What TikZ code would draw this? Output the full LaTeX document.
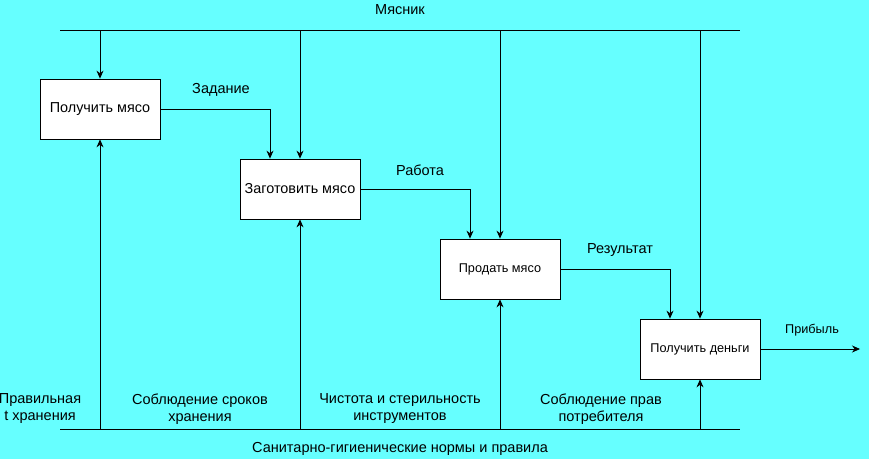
\documentclass[tikz,border=0pt]{standalone}
\usepackage{fontspec}
\setmainfont{Liberation Sans}
\usetikzlibrary{arrows.meta, positioning}
\definecolor{bgcyan}{RGB}{102,255,255}
\tikzstyle{process} = [rectangle, minimum width=120pt, minimum height=60pt, text centered, draw=black, fill=white, font=\fontsize{14.4}{16}\selectfont]
\tikzstyle{small} = [font=\fontsize{12.7}{15}\selectfont]
\tikzstyle{caption} = [align=center, font=\fontsize{14.5}{17}\selectfont]
\tikzstyle{arrow} = [-{Stealth[length=8pt,width=7pt]}]

\begin{document}
\begin{tikzpicture}[x=1pt, y=-1pt, line width=0.8pt]
    \fill[bgcyan] (0,0) rectangle (869,459);
    \useasboundingbox (0,0) rectangle (869,459);

    % Nodes
    \node (get) [process] at (100,109) {Получить мясо};
    \node (prep) [process] at (300,189) {Заготовить мясо};
    \node (sell) [process, small] at (500,269) {Продать мясо};
    \node (money) [process, small] at (700,349) {Получить деньги};

    \coordinate (ctlL) at (60,30);
    \coordinate (ctlR) at (740,30);
    \coordinate (mechL) at (60,429);
    \coordinate (mechR) at (740,429);
    \coordinate (profit) at (860,349);

    % Labels
    \node (butcher) [caption] at (400,10) {Мясник};
    \node (norms) [caption] at (400,449) {Санитарно-гигиенические нормы и правила};
    \node (task) [caption] at (221,90) {Задание};
    \node (work) [caption] at (420,170) {Работа};
    \node (result) [caption] at (620,250) {Результат};
    \node (gain) [caption, small] at (812,330) {Прибыль};
    \node (temp) [caption] at (40,409) {Правильная\\t хранения};
    \node (terms) [caption] at (200,409) {Соблюдение сроков\\хранения};
    \node (clean) [caption] at (400,409) {Чистота и стерильность\\инструментов};
    \node (rights) [caption] at (601,409) {Соблюдение прав\\потребителя};

    % Lines
    \draw (ctlL) -- (ctlR);
    \draw (mechL) -- (mechR);

    % Arrows
    \draw [arrow] (get.north |- ctlL) -- (get.north);
    \draw [arrow] (prep.north |- ctlL) -- (prep.north);
    \draw [arrow] (sell.north |- ctlL) -- (sell.north);
    \draw [arrow] (money.north |- ctlL) -- (money.north);
    \draw [arrow] (get.south |- mechL) -- (get.south);
    \draw [arrow] (prep.south |- mechL) -- (prep.south);
    \draw [arrow] (sell.south |- mechL) -- (sell.south);
    \draw [arrow] (money.south |- mechL) -- (money.south);
    \draw [arrow] (get.east) -| ([xshift=-30pt]prep.north);
    \draw [arrow] (prep.east) -| ([xshift=-30pt]sell.north);
    \draw [arrow] (sell.east) -| ([xshift=-30pt]money.north);
    \draw [arrow] (money.east) -- (profit);
\end{tikzpicture}
\end{document}
